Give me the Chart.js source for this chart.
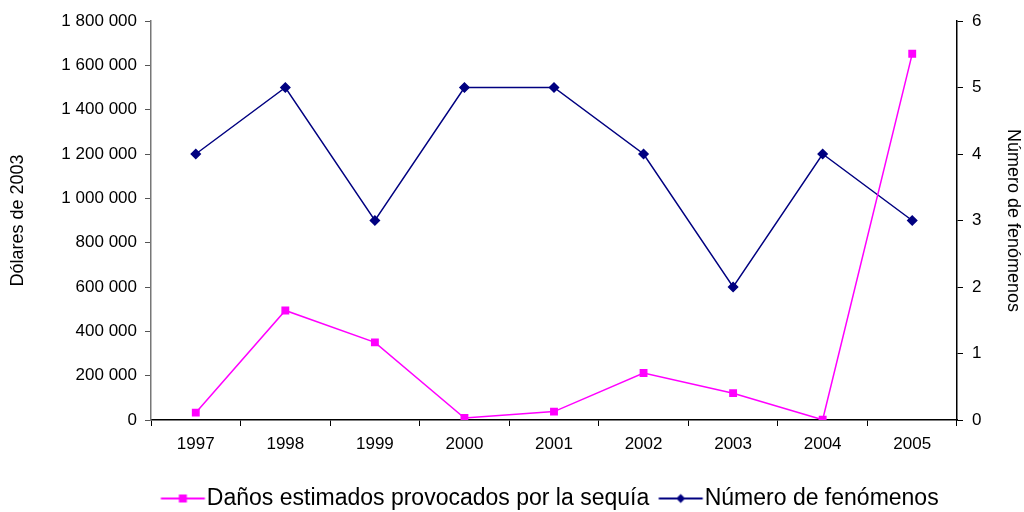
<!DOCTYPE html>
<html>
<head>
<meta charset="utf-8">
<script src="https://cdn.jsdelivr.net/npm/chart.js@4"></script>
<style>
  html, body { margin: 0; padding: 0; background: #fff; }
  #wrap { width: 1024px; height: 512px; }
</style>
</head>
<body>
<div id="wrap"><canvas id="chart" width="1024" height="512"></canvas></div>
<script>
'use strict';

var years = ['1997', '1998', '1999', '2000', '2001', '2002', '2003', '2004', '2005'];
var danos = [33000, 494000, 350000, 9000, 38000, 212000, 121000, 1000, 1652000];
var fenomenos = [4, 5, 3, 5, 5, 4, 2, 4, 3];
var leftTicks = [0, 200000, 400000, 600000, 800000, 1000000, 1200000, 1400000, 1600000, 1800000];

var PINK = '#ff00ff';
var NAVY = '#000080';
var FONT = "'Liberation Sans', Arial, sans-serif";

// icono de la leyenda: linea corta con el marcador en medio
function legendIcon(color, shape) {
    var c = document.createElement('canvas');
    c.width = 90; c.height = 12;
    var g = c.getContext('2d');
    g.strokeStyle = color;
    g.lineWidth = 2;
    g.beginPath(); g.moveTo(25.5, 6); g.lineTo(69.5, 6); g.stroke();
    g.fillStyle = color;
    if (shape === 'rect') {
        g.fillRect(43.5, 2, 8, 8);
    } else {
        g.beginPath();
        g.moveTo(47.5, 1.5); g.lineTo(52, 6); g.lineTo(47.5, 10.5); g.lineTo(43, 6);
        g.closePath(); g.fill();
    }
    return c;
}

function fmt(v) {
    return String(v).replace(/\B(?=(\d{3})+(?!\d))/g, ' ');
}

// mover la leyenda a la derecha y abajo, como en el original
var shiftLegend = {
    id: 'shiftLegend',
    afterLayout: function(chart) {
        var lg = chart.legend;
        if (lg) {
            lg.left += 40;
            lg.right += 40;
            lg.top += 8;
            lg.bottom += 8;
        }
    }
};

var ctx = document.getElementById('chart').getContext('2d');
new Chart(ctx, {
    type: 'line',
    data: {
        labels: years,
        datasets: [
            {
                label: 'Daños estimados provocados por la sequía',
                data: danos,
                yAxisID: 'y',
                borderColor: PINK,
                backgroundColor: PINK,
                borderWidth: 1.5,
                pointStyle: 'rect',
                pointRadius: 4.5,
                pointHoverRadius: 4.5,
                tension: 0
            },
            {
                label: 'Número de fenómenos',
                data: fenomenos,
                yAxisID: 'y1',
                borderColor: NAVY,
                backgroundColor: NAVY,
                borderWidth: 1.5,
                pointStyle: 'rectRot',
                pointRadius: 4.5,
                pointHoverRadius: 4.5,
                tension: 0
            }
        ]
    },
    plugins: [shiftLegend],
    options: {
        responsive: false,
        animation: false,
        layout: { padding: { top: 21, left: 0, right: 0, bottom: 0 } },
        plugins: {
            tooltip: { enabled: false },
            legend: {
                position: 'bottom',
                labels: {
                    font: { family: FONT, size: 23 },
                    color: '#000',
                    usePointStyle: true,
                    pointStyleWidth: 30,
                    padding: 14,
                    generateLabels: function(chart) {
                        return chart.data.datasets.map(function(ds, i) {
                            return {
                                text: ds.label,
                                pointStyle: legendIcon(ds.borderColor, ds.pointStyle),
                                fillStyle: ds.borderColor,
                                strokeStyle: ds.borderColor,
                                lineWidth: 0,
                                datasetIndex: i,
                                fontColor: '#000'
                            };
                        });
                    }
                }
            }
        },
        scales: {
            x: {
                offset: true,
                grid: { display: true, drawOnChartArea: false, offset: true, tickLength: 6, color: '#000' },
                border: { color: '#000', width: 1.5 },
                ticks: { color: '#000', font: { family: FONT, size: 17 }, maxRotation: 0, padding: 8 },
                afterFit: function(s) { s.height = 45; }
            },
            y: {
                position: 'left',
                min: 0,
                max: 1800000,
                afterBuildTicks: function(s) { s.ticks = leftTicks.map(function(v) { return { value: v }; }); },
                grid: { display: true, drawOnChartArea: false, tickLength: 6, color: '#555' },
                border: { color: '#777', width: 1.5 },
                ticks: { color: '#000', font: { family: FONT, size: 17 }, padding: 8, callback: function(v) { return fmt(v); } },
                title: { display: true, text: 'Dólares de 2003', color: '#000', font: { family: FONT, size: 18 }, padding: { top: 7, bottom: 0 } },
                afterFit: function(s) { s.width = 151; }
            },
            y1: {
                position: 'right',
                min: 0,
                max: 6,
                grid: { display: true, drawOnChartArea: false, tickLength: 6, color: '#000' },
                border: { color: '#000', width: 1.5 },
                ticks: { color: '#000', stepSize: 1, font: { family: FONT, size: 17 }, padding: 9 },
                title: { display: true, text: 'Número de fenómenos', color: '#000', font: { family: FONT, size: 18 }, padding: 0 },
                afterFit: function(s) { s.width = 67; }
            }
        }
    }
});
</script>
</body>
</html>
